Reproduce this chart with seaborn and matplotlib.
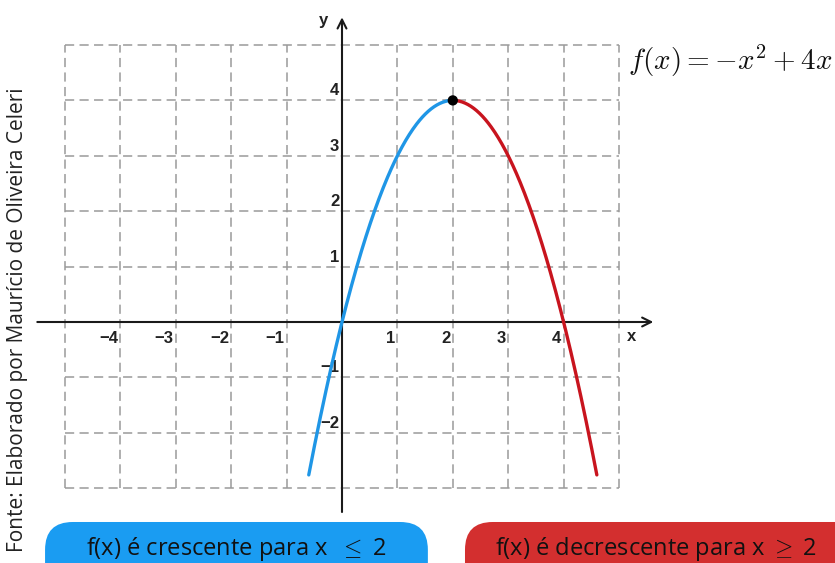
import matplotlib
import numpy as np
import pandas as pd

matplotlib.use("Agg")
import matplotlib.pyplot as plt
import seaborn as sns
from matplotlib.patches import FancyBboxPatch

# function f(x) = a*x^2 + b*x + c, as written on the chart
coef = [-1, 4, 0]
x_rise = [-0.6, 2.0]
x_fall = [2.0, 4.6]
vertex = [2, 4]

x_ticks = [-4, -3, -2, -1, 1, 2, 3, 4]
y_ticks = [-2, -1, 1, 2, 3, 4]
grid_x = [-5, -4, -3, -2, -1, 0, 1, 2, 3, 4, 5]
grid_y = [-3, -2, -1, 0, 1, 2, 3, 4, 5]

label_rise = "f(x) é crescente para x  $\\leq$ 2"
label_fall = "f(x) é decrescente para x $\\geq$ 2"
source = "Fonte: Elaborado por Maurício de Oliveira Celeri"
formula = "$f(x) = -x^2 + 4x$"

BLUE = "#1f96e6"
RED = "#c8141e"
BOX_BLUE = "#1a9cf2"
BOX_RED = "#d32f2f"


def f(x):
    return coef[0] * x ** 2 + coef[1] * x + coef[2]


xs1 = np.linspace(x_rise[0], x_rise[1], 200)
xs2 = np.linspace(x_fall[0], x_fall[1], 200)
df_rise = pd.DataFrame({"x": xs1, "y": f(xs1)})
df_fall = pd.DataFrame({"x": xs2, "y": f(xs2)})

sns.set_style("white")
plt.rcParams["mathtext.fontset"] = "cm"

fig = plt.figure(figsize=(8.35, 5.63), dpi=100)
ax = fig.add_axes([0, 0, 1, 1])
ppu = 55.4
ax.set_xlim(-342 / ppu, (835 - 342) / ppu)
ax.set_ylim((322 - 563) / ppu, 322 / ppu)
ax.axis("off")

# dashed grid
ax.vlines(grid_x, grid_y[0], grid_y[-1], colors="#9a9a9a", linestyles=(0, (6, 3.5)), lw=1.1, zorder=1)
ax.hlines(grid_y, grid_x[0], grid_x[-1], colors="#9a9a9a", linestyles=(0, (6, 3.5)), lw=1.1, zorder=1)

# axes with arrows
ax.annotate("", xy=(5.62, 0), xytext=(-5.5, 0),
            arrowprops=dict(arrowstyle="->", lw=1.5, color="#1a1a1a", mutation_scale=16, shrinkA=0, shrinkB=0), zorder=2)
ax.annotate("", xy=(0, 5.5), xytext=(0, -3.43),
            arrowprops=dict(arrowstyle="->", lw=1.5, color="#1a1a1a", mutation_scale=16, shrinkA=0, shrinkB=0), zorder=2)


def tick_text(t):
    return "\u2212" + str(-t) if t < 0 else str(t)


tick_font = dict(fontsize=12, fontweight="bold", family=["Liberation Sans", "DejaVu Sans"], color="#222", zorder=3)
for t in x_ticks:
    ax.text(t - 0.04, -0.3, tick_text(t), ha="right", va="center", **tick_font)
for t in y_ticks:
    ax.text(-0.05, t + 0.17, tick_text(t), ha="right", va="center", **tick_font)
ax.text(-0.33, 5.45, "y", ha="center", va="center", **tick_font)
ax.text(5.23, -0.27, "x", ha="center", va="center", **tick_font)

sns.lineplot(data=df_rise, x="x", y="y", ax=ax, color=BLUE, lw=2.4, sort=False, zorder=4)
sns.lineplot(data=df_fall, x="x", y="y", ax=ax, color=RED, lw=2.4, sort=False, zorder=4)
sns.scatterplot(x=[vertex[0]], y=[vertex[1]], ax=ax, color="black", s=55, zorder=5, edgecolor="none")

ax.text(5.16, 4.72, formula, fontsize=21, ha="left", va="center", color="#111")

ax.text(-5.85, 0.04, source, rotation=90, ha="center", va="center",
        fontsize=15, family=["Open Sans", "DejaVu Sans"], color="#222")

# bottom boxes
for x0, x1, col in [(-5.36, 1.55, BOX_BLUE), (2.22, 9.6, BOX_RED)]:
    box = FancyBboxPatch((x0, -5.1), x1 - x0, 1.49,
                         boxstyle="round,pad=0,rounding_size=0.5", fc=col, ec="none", zorder=2)
    ax.add_patch(box)
ax.text(-1.91, -4.1, label_rise, ha="center", va="center", fontsize=17,
        family=["Open Sans", "DejaVu Sans"], color="#111", zorder=3)
ax.text(5.67, -4.1, label_fall, ha="center", va="center", fontsize=17,
        family=["Open Sans", "DejaVu Sans"], color="#111", zorder=3)

fig.savefig("out.png", dpi=100)
